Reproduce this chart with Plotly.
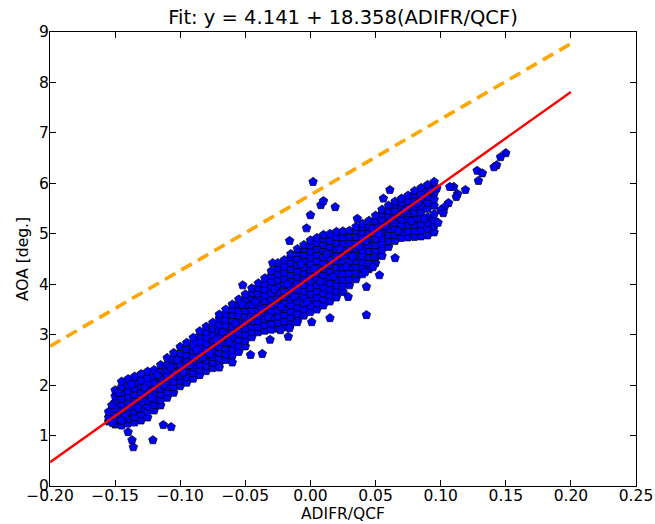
import plotly.graph_objects as go

# ---- fit / reference lines ----
fit_intercept = 4.141
fit_slope = 18.358
line_x = [-0.2, 0.2]
orange_x = [-0.2, 0.2]
orange_y = [2.77, 8.77]

# ---- dense cloud, read column by column (x column -> y values) ----
cols_x = [-0.155, -0.150, -0.145, -0.140, -0.135, -0.130, -0.125, -0.120, -0.115, -0.110,
          -0.105, -0.100, -0.095, -0.090, -0.085, -0.080, -0.075, -0.070, -0.065, -0.060,
          -0.055, -0.050, -0.045, -0.040, -0.035, -0.030, -0.025, -0.020, -0.015, -0.010,
          -0.005, 0.000, 0.005, 0.010, 0.015, 0.020, 0.025, 0.030, 0.035, 0.040,
          0.045, 0.050, 0.055, 0.060, 0.065, 0.070, 0.075, 0.080, 0.085, 0.090, 0.095]
cols_y = [
    [1.28, 1.36, 1.47],
    [1.22, 1.31, 1.42, 1.53, 1.66, 1.78, 1.9],
    [1.2, 1.3, 1.41, 1.5, 1.62, 1.73, 1.85, 1.96, 2.07],
    [1.24, 1.33, 1.45, 1.56, 1.65, 1.77, 1.88, 1.99, 2.12],
    [1.26, 1.37, 1.48, 1.58, 1.7, 1.81, 1.93, 2.04, 2.17],
    [1.3, 1.42, 1.53, 1.64, 1.74, 1.86, 1.97, 2.09, 2.22],
    [1.36, 1.47, 1.58, 1.69, 1.8, 1.91, 2.02, 2.14, 2.27],
    [1.5, 1.61, 1.72, 1.83, 1.94, 2.05, 2.17, 2.3],
    [1.6, 1.7, 1.82, 1.93, 2.04, 2.15, 2.27, 2.4],
    [1.75, 1.86, 1.97, 2.08, 2.19, 2.3, 2.41, 2.54],
    [1.85, 1.96, 2.07, 2.18, 2.29, 2.4, 2.51, 2.64],
    [1.98, 2.08, 2.19, 2.3, 2.41, 2.52, 2.63, 2.76],
    [2.05, 2.16, 2.27, 2.38, 2.49, 2.6, 2.71, 2.84],
    [2.13, 2.24, 2.35, 2.46, 2.57, 2.68, 2.79, 2.94],
    [2.2, 2.3, 2.41, 2.52, 2.63, 2.74, 2.86, 2.98, 3.07],
    [2.28, 2.38, 2.49, 2.6, 2.71, 2.82, 2.94, 3.05, 3.16],
    [2.34, 2.45, 2.56, 2.67, 2.78, 2.89, 3.0, 3.12, 3.24],
    [2.42, 2.53, 2.64, 2.75, 2.86, 2.97, 3.09, 3.2, 3.32, 3.4],
    [2.5, 2.61, 2.73, 2.84, 2.96, 3.07, 3.18, 3.3, 3.41, 3.5],
    [2.58, 2.7, 2.82, 2.94, 3.05, 3.17, 3.28, 3.39, 3.5, 3.6],
    [2.66, 2.78, 2.9, 3.02, 3.14, 3.26, 3.38, 3.49, 3.6, 3.7],
    [2.77, 2.88, 3.0, 3.12, 3.24, 3.36, 3.48, 3.59, 3.7, 3.8],
    [2.95, 3.05, 3.16, 3.27, 3.38, 3.49, 3.6, 3.71, 3.82, 3.92],
    [3.05, 3.16, 3.27, 3.38, 3.49, 3.6, 3.71, 3.82, 3.93, 4.02],
    [3.08, 3.19, 3.31, 3.43, 3.55, 3.67, 3.78, 3.9, 4.01, 4.12],
    [3.1, 3.22, 3.34, 3.46, 3.58, 3.7, 3.82, 3.94, 4.06, 4.17, 4.26],
    [3.12, 3.24, 3.36, 3.48, 3.6, 3.72, 3.84, 3.96, 4.08, 4.2, 4.32, 4.42],
    [3.15, 3.27, 3.39, 3.51, 3.63, 3.75, 3.87, 3.99, 4.11, 4.23, 4.35, 4.48],
    [3.22, 3.34, 3.46, 3.58, 3.7, 3.82, 3.94, 4.06, 4.18, 4.3, 4.42, 4.54, 4.6],
    [3.3, 3.42, 3.54, 3.66, 3.78, 3.9, 4.02, 4.14, 4.26, 4.38, 4.5, 4.62, 4.7],
    [3.38, 3.5, 3.62, 3.74, 3.86, 3.98, 4.1, 4.22, 4.34, 4.46, 4.58, 4.7, 4.78],
    [3.45, 3.57, 3.69, 3.81, 3.93, 4.05, 4.17, 4.29, 4.41, 4.53, 4.65, 4.77, 4.87],
    [3.5, 3.62, 3.74, 3.86, 3.98, 4.1, 4.22, 4.34, 4.46, 4.58, 4.7, 4.82, 4.92],
    [3.58, 3.7, 3.82, 3.94, 4.06, 4.18, 4.3, 4.42, 4.54, 4.66, 4.78, 4.9, 4.98],
    [3.66, 3.78, 3.9, 4.02, 4.14, 4.26, 4.38, 4.5, 4.62, 4.74, 4.86, 5.0],
    [3.74, 3.86, 3.98, 4.1, 4.22, 4.34, 4.46, 4.58, 4.7, 4.82, 4.94, 5.04],
    [3.85, 3.97, 4.09, 4.21, 4.33, 4.45, 4.57, 4.69, 4.81, 4.93, 5.05],
    [3.98, 4.1, 4.22, 4.34, 4.46, 4.58, 4.7, 4.82, 4.94, 5.06],
    [4.1, 4.22, 4.34, 4.46, 4.58, 4.7, 4.82, 4.94, 5.06, 5.14],
    [4.2, 4.32, 4.44, 4.56, 4.68, 4.8, 4.92, 5.04, 5.14, 5.2],
    [4.3, 4.42, 4.54, 4.66, 4.78, 4.9, 5.02, 5.14, 5.26],
    [4.42, 4.54, 4.66, 4.78, 4.9, 5.02, 5.14, 5.26, 5.36],
    [4.56, 4.68, 4.8, 4.92, 5.04, 5.16, 5.28, 5.4, 5.48],
    [4.74, 4.86, 4.98, 5.1, 5.22, 5.34, 5.46, 5.56],
    [4.86, 4.98, 5.1, 5.22, 5.34, 5.46, 5.58, 5.64],
    [4.92, 5.04, 5.16, 5.28, 5.4, 5.52, 5.62, 5.7],
    [4.93, 5.05, 5.17, 5.29, 5.41, 5.53, 5.65, 5.76],
    [4.94, 5.06, 5.18, 5.3, 5.42, 5.54, 5.66, 5.78, 5.85],
    [4.95, 5.07, 5.19, 5.31, 5.43, 5.55, 5.67, 5.79, 5.91],
    [4.97, 5.09, 5.21, 5.33, 5.5, 5.62, 5.74, 5.86, 5.97],
    [5.03, 5.15, 5.27, 5.39, 5.56, 5.68, 5.8, 5.92, 6.03],
    [5.12, 5.26, 5.38, 5.74, 5.86, 5.98, 6.05],
]

# ---- in-between points that break up the column pattern ----
fill_x = [-0.1525, -0.1475, -0.1425, -0.1375, -0.1325, -0.1275, -0.1175, -0.1075, -0.0975,
          -0.0875, -0.0775, -0.0675, -0.0575, -0.0475, -0.0375, -0.0275, -0.0175, -0.0075,
          0.0025, 0.0125, 0.0225, 0.0325, 0.0425, 0.0525, 0.0625, 0.0725, 0.0825, 0.0925,
          -0.1225, -0.1125, -0.1025, -0.0925, -0.0825, -0.0725, -0.0625, -0.0525, -0.0425,
          -0.0325, -0.0225, -0.0125, -0.0025, 0.0075, 0.0175, 0.0275, 0.0375, 0.0475,
          0.0575, 0.0675, 0.0775, 0.0875]
fill_y = [1.6, 1.85, 1.38, 2.02, 1.55, 1.95, 2.2, 2.35, 2.25,
          2.7, 2.62, 3.05, 3.22, 3.3, 3.5, 3.9, 4.0, 4.4,
          4.3, 4.6, 4.7, 4.55, 4.85, 5.0, 5.28, 5.45, 5.6, 5.85,
          1.75, 2.0, 2.5, 2.4, 2.55, 2.9, 2.85, 3.6, 3.65,
          3.35, 3.55, 3.75, 3.65, 4.05, 4.15, 4.35, 4.75, 5.1,
          5.15, 5.05, 5.25, 5.3]

# ---- scattered points outside the dense band ----
stray_x = [-0.140, -0.137, -0.136, -0.121, -0.113, -0.107, -0.152, -0.145,
           -0.037, -0.031, -0.017, -0.016, -0.023, -0.010, 0.001, 0.015, 0.043, 0.043, 0.029, 0.053,
           -0.052, -0.029, -0.016, -0.003, 0.000, 0.002, 0.008, 0.010, 0.019, 0.061,
           0.065, 0.048, 0.049, 0.042, -0.046, -0.060, -0.070, 0.036, 0.056]
stray_y = [1.07, 0.91, 0.77, 0.91, 1.21, 1.17, 1.25, 1.3,
           2.62, 2.9, 2.96, 3.13, 3.09, 3.25, 3.25, 3.33, 3.39, 3.95, 3.75, 4.18,
           3.98, 4.42, 4.86, 5.11, 5.37, 6.03, 5.57, 5.65, 5.53, 5.87,
           4.52, 4.34, 4.54, 4.24, 2.6, 2.45, 2.35, 5.3, 5.7]

# ---- right-hand tail ----
tail_x = [0.150, 0.146, 0.143, 0.141, 0.128, 0.132, 0.129, 0.110, 0.119, 0.113,
          0.112, 0.106, 0.103, 0.100, 0.098, 0.097, 0.107, 0.102]
tail_y = [6.60, 6.52, 6.36, 6.32, 6.25, 6.20, 6.05, 5.93, 5.87, 5.79,
          5.73, 5.61, 5.53, 5.47, 5.22, 5.90, 5.93, 5.41]

pts_x, pts_y = [], []
for cx, ys in zip(cols_x, cols_y):
    pts_x += [cx] * len(ys)
    pts_y += ys
pts_x += fill_x + stray_x + tail_x
pts_y += fill_y + stray_y + tail_y

fit_y = [fit_intercept + fit_slope * v for v in line_x]

fig = go.Figure()
fig.add_trace(go.Scatter(
    x=pts_x, y=pts_y, mode="markers",
    marker=dict(symbol="pentagon", size=9, color="#0000ff",
                line=dict(color="black", width=0.7)),
    showlegend=False, hoverinfo="skip"))
fig.add_trace(go.Scatter(
    x=line_x, y=fit_y, mode="lines",
    line=dict(color="#ff0000", width=2.4), showlegend=False))
fig.add_trace(go.Scatter(
    x=orange_x, y=orange_y, mode="lines",
    line=dict(color="#ffa500", width=3.6, dash="12px,7px"), showlegend=False))

axis_common = dict(
    showline=True, linecolor="black", linewidth=1, mirror="ticks",
    ticks="inside", ticklen=6, tickcolor="black", tickwidth=1,
    showgrid=False, zeroline=False, automargin=False,
    tickfont=dict(family="DejaVu Sans", size=15.5, color="black"),
)

fig.update_layout(
    width=655, height=524,
    margin=dict(l=50, r=19, t=32, b=38),
    paper_bgcolor="white", plot_bgcolor="white",
    font=dict(family="DejaVu Sans", color="black"),
    title=dict(text="Fit: y = 4.141 + 18.358(ADIFR/QCF)",
               x=0.5, xref="paper", xanchor="center",
               y=1 - 17 / 524, yref="container", yanchor="middle",
               font=dict(family="DejaVu Sans", size=19.5, color="black")),
    xaxis=dict(range=[-0.2, 0.25], tick0=-0.2, dtick=0.05, tickformat=".2f",
               ticklabelstandoff=-5,
               title=dict(text="ADIFR/QCF", standoff=3,
                          font=dict(family="DejaVu Sans", size=15.5, color="black")),
               **axis_common),
    yaxis=dict(range=[0, 9], tick0=0, dtick=1, ticklabelstandoff=-3,
               title=dict(text="AOA [deg.]", standoff=6,
                          font=dict(family="DejaVu Sans", size=15.5, color="black")),
               **axis_common),
)

fig.write_html("out.html")
